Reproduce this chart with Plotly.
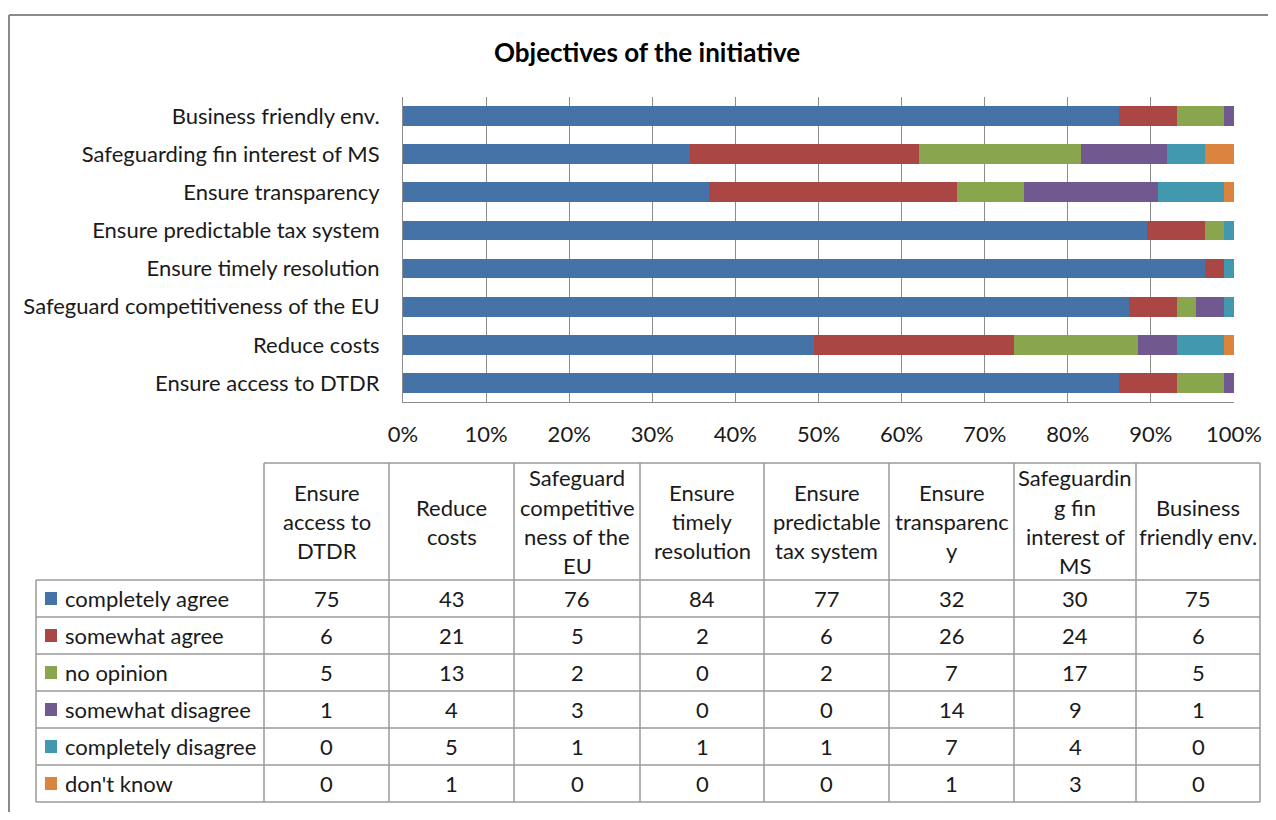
import plotly.graph_objects as go

categories = [
    "Ensure access to DTDR",
    "Reduce costs",
    "Safeguard competitiveness of the EU",
    "Ensure timely resolution",
    "Ensure predictable tax system",
    "Ensure transparency",
    "Safeguarding fin interest of MS",
    "Business friendly env.",
]
table_headers = [
    "Ensure<br>access to<br>DTDR",
    "Reduce<br>costs",
    "Safeguard<br>competitive<br>ness of the<br>EU",
    "Ensure<br>timely<br>resolution",
    "Ensure<br>predictable<br>tax system",
    "Ensure<br>transparenc<br>y",
    "Safeguardin<br>g fin<br>interest of<br>MS",
    "Business<br>friendly env.",
]
series_names = ["completely agree", "somewhat agree", "no opinion",
                "somewhat disagree", "completely disagree", "don't know"]
completely_agree = [75, 43, 76, 84, 77, 32, 30, 75]
somewhat_agree = [6, 21, 5, 2, 6, 26, 24, 6]
no_opinion = [5, 13, 2, 0, 2, 7, 17, 5]
somewhat_disagree = [1, 4, 3, 0, 0, 14, 9, 1]
completely_disagree = [0, 5, 1, 1, 1, 7, 4, 0]
dont_know = [0, 1, 0, 0, 0, 1, 3, 0]
series_values = [completely_agree, somewhat_agree, no_opinion,
                 somewhat_disagree, completely_disagree, dont_know]
colors = ["#4572A7", "#AA4643", "#89A54E", "#71588F", "#4198AF", "#DB843D"]
x_ticks = list(range(0, 101, 10))

# figure is placed inside the page's default 8px body margin
OFF = 8
W, H = 1276 - 2 * OFF, 820 - 2 * OFF
FONT = "Lato"
TXT = "#1a1a1a"
GRID = "#8c8c8c"
FS = 22


def px(x):
    return (x - OFF) / W


def py(y):
    return 1 - (y - OFF) / H


fig = go.Figure()
for name, vals, col in zip(series_names, series_values, colors):
    fig.add_trace(go.Bar(
        y=categories, x=vals, name=name, orientation="h",
        marker=dict(color=col, line=dict(width=0)),
        showlegend=False,
    ))

fig.update_layout(
    width=W, height=H, autosize=False,
    margin=dict(l=0, r=0, t=0, b=0, pad=0),
    paper_bgcolor="white", plot_bgcolor="white",
    barmode="stack", barnorm="percent", bargap=0.48,
    font=dict(family=FONT, size=FS, color=TXT),
    xaxis=dict(
        domain=[px(403), px(1234)], range=[0, 100], automargin=False,
        tickvals=x_ticks, ticktext=[f"{v}%" for v in x_ticks],
        showgrid=True, gridcolor=GRID, gridwidth=1,
        showline=True, linecolor=GRID, linewidth=1,
        zeroline=False, ticks="", ticklabelstandoff=13,
        tickfont=dict(size=FS),
    ),
    yaxis=dict(
        domain=[py(402), py(97)], automargin=False,
        showline=True, linecolor=GRID, linewidth=1,
        showgrid=False, ticks="", ticklabelstandoff=18,
        tickfont=dict(size=FS),
    ),
)

shapes = []
annotations = []

# outer frame
shapes.append(dict(type="line", xref="paper", yref="paper",
                   x0=px(9), x1=1, y0=py(15), y1=py(15),
                   line=dict(color="#8a8a8a", width=2)))
shapes.append(dict(type="line", xref="paper", yref="paper",
                   x0=px(9), x1=px(9), y0=py(15), y1=0,
                   line=dict(color="#8a8a8a", width=2)))

# title
annotations.append(dict(text="<b>Objectives of the initiative</b>",
                        xref="paper", yref="paper", x=px(647), y=py(52),
                        xanchor="center", yanchor="middle", showarrow=False,
                        font=dict(size=26, color="black", family=FONT)))

# data table
col_edges = [264, 389, 514, 640, 764, 889, 1014, 1136, 1260]
label_left = 36
head_top, head_bot = 463, 580
row_h = 37
n_rows = len(series_names)
table_bottom = head_bot + n_rows * row_h
LINE = dict(color="#9a9a9a", width=1.5)

for xe in col_edges:
    shapes.append(dict(type="line", xref="paper", yref="paper",
                       x0=px(xe), x1=px(xe), y0=py(head_top), y1=py(table_bottom),
                       line=LINE))
shapes.append(dict(type="line", xref="paper", yref="paper",
                   x0=px(label_left), x1=px(label_left), y0=py(head_bot), y1=py(table_bottom),
                   line=LINE))
shapes.append(dict(type="line", xref="paper", yref="paper",
                   x0=px(col_edges[0]), x1=px(col_edges[-1]), y0=py(head_top), y1=py(head_top),
                   line=LINE))
for r in range(n_rows + 1):
    yy = head_bot + r * row_h
    shapes.append(dict(type="line", xref="paper", yref="paper",
                       x0=px(label_left), x1=px(col_edges[-1]), y0=py(yy), y1=py(yy),
                       line=LINE))

line_gap = 29
head_mid = (head_top + head_bot) / 2
for c, hdr in enumerate(table_headers):
    cx = (col_edges[c] + col_edges[c + 1]) / 2
    lines = hdr.split("<br>")
    n = len(lines)
    for k, ln in enumerate(lines):
        cy = head_mid + (k - (n - 1) / 2) * line_gap
        annotations.append(dict(text=ln, xref="paper", yref="paper",
                                x=px(cx), y=py(cy), xanchor="center", yanchor="middle",
                                showarrow=False, font=dict(size=FS, color=TXT)))

for r, (name, vals, col) in enumerate(zip(series_names, series_values, colors)):
    cy = head_bot + r * row_h + row_h / 2
    shapes.append(dict(type="rect", xref="paper", yref="paper",
                       x0=px(45), x1=px(57), y0=py(cy - 6.5), y1=py(cy + 6.5),
                       fillcolor=col, line=dict(width=0)))
    annotations.append(dict(text=name, xref="paper", yref="paper",
                            x=px(63), y=py(cy), xanchor="left", yanchor="middle",
                            showarrow=False, font=dict(size=FS, color=TXT)))
    for c, v in enumerate(vals):
        cx = (col_edges[c] + col_edges[c + 1]) / 2
        annotations.append(dict(text=str(v), xref="paper", yref="paper",
                                x=px(cx), y=py(cy), xanchor="center", yanchor="middle",
                                showarrow=False, font=dict(size=FS, color=TXT)))

fig.update_layout(shapes=shapes, annotations=annotations)
fig.write_html("out.html")
